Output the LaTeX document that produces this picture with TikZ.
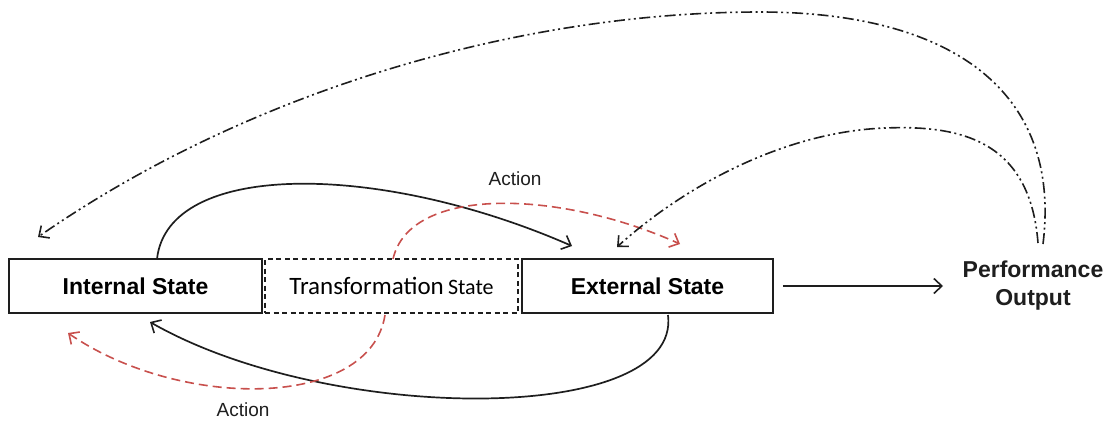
\documentclass[tikz,border=0pt]{standalone}
\usepackage{fontspec}
\setmainfont{Liberation Sans}
\newfontfamily\calfont{Carlito}
\usetikzlibrary{arrows.meta}
\definecolor{ink}{HTML}{1E1E1E}
\definecolor{actred}{HTML}{C8504D}
\begin{document}
\begin{tikzpicture}[x=1pt,y=-1pt,
  statebox/.style={draw=ink, line width=1.6pt, minimum width=253pt, minimum height=54pt,
    inner sep=0pt, font=\fontsize{23}{27}\selectfont\bfseries},
  tip/.style={-{Straight Barb[length=8pt,width=15pt,line width=1.6pt]}},
  flow/.style={draw=ink, line width=1.7pt, tip},
  action/.style={draw=actred, line width=1.6pt, dash pattern=on 9pt off 5pt, tip},
  feedback/.style={draw=ink, line width=1.6pt, tip,
    dash pattern=on 11pt off 3.5pt on 2pt off 3.5pt on 2pt off 3.5pt},
  lbl/.style={font=\fontsize{19}{21}\selectfont, text=ink}
]
\useasboundingbox (0,0) rectangle (1112,421);

% the three state boxes
\node[statebox] (intern) at (135.5,286) {Internal State};
\node[statebox, dash pattern=on 5pt off 3.5pt, font=\calfont\fontsize{25}{28}\selectfont]
  (trans) at (391.5,286) {Transformation\,{\fontsize{22}{26}\selectfont State}};
\node[statebox, minimum width=251pt] (extern) at (647.5,286) {External State};

% output
\node[align=center, font=\fontsize{23}{28}\selectfont\bfseries, text=ink] (perf) at (1033,286)
  {Performance\\Output};

% labels
\node[lbl] (actTop) at (515,179) {Action};
\node[lbl] (actBot) at (243,410) {Action};

% connector ends
\coordinate (inTop) at (157,259);
\coordinate (exIn) at (572,246);
\coordinate (exBot) at (668,315);
\coordinate (inIn) at (150,322);
\coordinate (trTop) at (393,259);
\coordinate (exRed) at (680,244);
\coordinate (trBot) at (385,315);
\coordinate (inRed) at (68,333);
\coordinate (perfA) at (1043,244);
\coordinate (perfB) at (1038,243);
\coordinate (inFar) at (38,237);
\coordinate (exFb) at (617,247);

% solid transitions between internal and external states
\draw[flow] (inTop) .. controls (168,160) and (380,162) .. (exIn);
\draw[flow] (exBot) .. controls (682,425) and (330,425) .. (inIn);

% action paths through the transformation state
\draw[action] (trTop) .. controls (410,185) and (560,190) .. (exRed);
\draw[action] (trBot) .. controls (370,410) and (180,410) .. (inRed);

% feedback from the performance output
\draw[feedback] (perfA) .. controls (1062,90) and (950,12) .. (760,12)
  .. controls (520,12) and (250,90) .. (inFar);
\draw[feedback] (perfB) .. controls (1030,140) and (960,125) .. (885,128)
  .. controls (780,132) and (680,190) .. (exFb);

% output arrow
\draw[draw=ink, line width=1.6pt, tip] (extern.east) ++(9,0) coordinate (exOut) -- (943,286) coordinate (perfIn);
\end{tikzpicture}
\end{document}
